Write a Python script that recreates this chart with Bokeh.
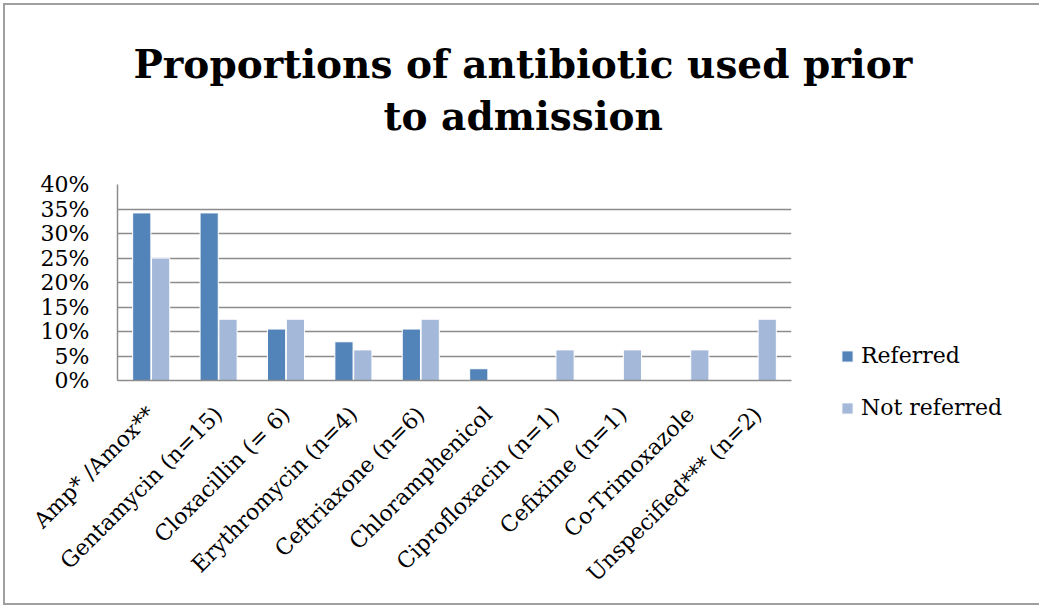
from math import pi

from bokeh.plotting import figure
from bokeh.models import (ColumnDataSource, Range1d, FixedTicker, NumeralTickFormatter,
                          Legend, LegendItem, Title)
from bokeh.embed import file_html
from bokeh.resources import INLINE

# Antibiotic categories and the share of each group that used them
categories = [
    "Amp* /Amox**",
    "Gentamycin (n=15)",
    "Cloxacillin (= 6)",
    "Erythromycin (n=4)",
    "Ceftriaxone (n=6)",
    "Chloramphenicol",
    "Ciprofloxacin (n=1)",
    "Cefixime (n=1)",
    "Co-Trimoxazole",
    "Unspecified*** (n=2)",
]
referred = [0.342, 0.342, 0.105, 0.079, 0.105, 0.024, 0.0, 0.0, 0.0, 0.0]
not_referred = [0.25, 0.125, 0.125, 0.0625, 0.125, 0.0, 0.0625, 0.0625, 0.0625, 0.125]
y_ticks = [0.0, 0.05, 0.10, 0.15, 0.20, 0.25, 0.30, 0.35, 0.40]
title_lines = ["Proportions of antibiotic used prior", "to admission"]

SERIF = "DejaVu Serif"
REF_COLOR = "#5283B9"
NOT_COLOR = "#A4B8DA"
GRID = "#8C8C8C"

W, H = 1039, 608
LEFT, RIGHT, TOP, BOTTOM = 117, 791, 184, 380

centers = [i + 0.5 for i in range(len(categories))]
offset = 0.14
bar_w = 0.27

src = ColumnDataSource(dict(
    x_ref=[c - offset for c in centers],
    x_not=[c + offset for c in centers],
    referred=referred,
    not_referred=not_referred,
))

p = figure(frame_width=RIGHT - LEFT, frame_height=BOTTOM - TOP,
           output_backend="svg", toolbar_location=None, title=None,
           x_range=Range1d(0, len(categories)), y_range=Range1d(0, 0.40),
           min_border_left=LEFT, min_border_right=W - RIGHT,
           min_border_top=TOP, min_border_bottom=H - BOTTOM,
           background_fill_color="white", border_fill_alpha=0)
p.outline_line_color = None
# thin grey frame around the whole chart (drawn behind the transparent border area)
p.styles = {"background-color": "white",
            "box-shadow": "inset 0 0 0 3px white, inset 0 0 0 5px #A0A0A0"}

r1 = p.vbar(x="x_ref", top="referred", width=bar_w, source=src,
            fill_color=REF_COLOR, line_color="white", line_width=1)
r2 = p.vbar(x="x_not", top="not_referred", width=bar_w, source=src,
            fill_color=NOT_COLOR, line_color="white", line_width=1)

# grid
p.xgrid.grid_line_color = None
p.ygrid.grid_line_color = GRID
p.ygrid.grid_line_width = 1.5
p.ygrid.ticker = FixedTicker(ticks=y_ticks)

# y axis
p.yaxis.ticker = FixedTicker(ticks=y_ticks)
p.yaxis.formatter = NumeralTickFormatter(format="0%")
p.yaxis.axis_line_color = GRID
p.yaxis.axis_line_width = 1.5
p.yaxis.major_tick_line_color = None
p.yaxis.minor_tick_line_color = None
p.yaxis.major_label_text_font = SERIF
p.yaxis.major_label_text_font_size = "22px"
p.yaxis.major_label_text_color = "black"
p.yaxis.major_label_standoff = 22

# x axis with rotated category names
p.xaxis.ticker = FixedTicker(ticks=centers)
p.xaxis.major_label_overrides = {c: name for c, name in zip(centers, categories)}
p.xaxis.major_label_orientation = pi / 4
p.xaxis.axis_line_color = GRID
p.xaxis.axis_line_width = 1.5
p.xaxis.major_tick_line_color = None
p.xaxis.minor_tick_line_color = None
p.xaxis.major_label_text_font = SERIF
p.xaxis.major_label_text_font_size = "22px"
p.xaxis.major_label_text_color = "black"
p.xaxis.major_label_standoff = 24

# two-line bold title; the line nearest the plot is added first, and the
# standoffs set each line's distance from the panel below it
for txt, shift, standoff in [(title_lines[1], 266, 91), (title_lines[0], 16, -82)]:
    p.add_layout(Title(text=txt, align="left", offset=shift, standoff=standoff,
                       text_font=SERIF, text_font_style="bold",
                       text_font_size="39px", text_color="black"), "above")

# legend beside the plot area
legend = Legend(items=[LegendItem(label="Referred", renderers=[r1]),
                       LegendItem(label="Not referred", renderers=[r2])],
                location=(49, -40), orientation="vertical",
                label_text_font=SERIF, label_text_font_size="22px",
                label_text_color="black",
                glyph_width=14, glyph_height=14, label_standoff=7,
                spacing=27, padding=0, margin=0,
                border_line_color=None, background_fill_alpha=0)
p.add_layout(legend, "right")

open("out.html", "w").write(file_html(p, INLINE))
